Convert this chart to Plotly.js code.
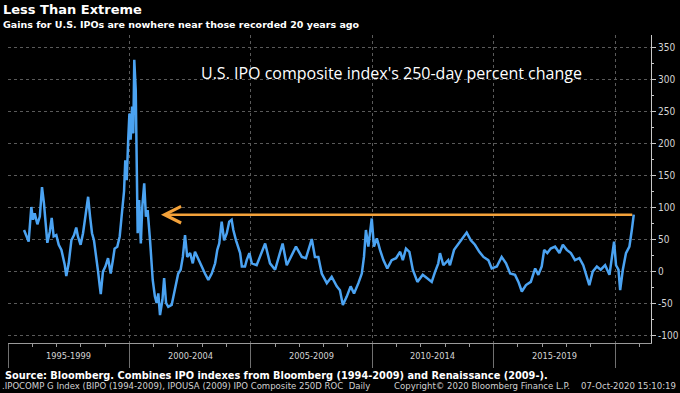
<!DOCTYPE html>
<html>
<head>
<meta charset="utf-8">
<script src="https://cdn.plot.ly/plotly-3.0.1.min.js"></script>
<style>
html,body{margin:0;padding:0;background:#000;}
#chart{width:680px;height:393px;}
</style>
</head>
<body>
<div id="chart"></div>
<script>
// Decimal years and 250-day percent change of the U.S. IPO composite index
const years = [
1995.66,1995.75,1995.85,1995.96,1996.03,1996.10,1996.21,1996.31,1996.40,1996.48,
1996.55,1996.62,1996.72,1996.80,1996.88,1996.99,1997.09,1997.20,1997.34,1997.40,
1997.50,1997.61,1997.72,1997.81,1997.88,1997.99,1998.09,1998.18,1998.30,1998.38,
1998.46,1998.54,1998.64,1998.71,1998.78,1998.82,1998.91,1999.01,1999.12,1999.23,
1999.32,1999.39,1999.50,1999.60,1999.67,1999.78,1999.83,1999.89,1999.95,2000.00,
2000.05,2000.11,2000.16,2000.20,2000.26,2000.30,2000.34,2000.40,2000.47,2000.53,
2000.61,2000.68,2000.75,2000.85,2000.96,2001.05,2001.12,2001.19,2001.26,2001.36,
2001.43,2001.51,2001.60,2001.74,2001.88,2002.01,2002.11,2002.20,2002.29,2002.38,
2002.50,2002.61,2002.70,2002.84,2002.98,2003.11,2003.25,2003.39,2003.53,2003.62,
2003.70,2003.80,2003.90,2004.01,2004.11,2004.21,2004.28,2004.39,2004.56,2004.63,
2004.76,2004.83,2004.94,2005.04,2005.24,2005.59,2005.79,2006.00,2006.31,2006.48,
2006.86,2007.10,2007.27,2007.51,2007.64,2007.78,2007.92,2008.13,2008.33,2008.54,
2008.67,2008.79,2008.95,2009.11,2009.25,2009.43,2009.57,2009.66,2009.74,2009.84,
2009.98,2010.07,2010.19,2010.32,2010.46,2010.62,2010.80,2010.98,2011.15,2011.26,
2011.39,2011.53,2011.67,2011.86,2012.08,2012.25,2012.45,2012.59,2012.72,2012.79,
2012.93,2013.13,2013.20,2013.37,2013.55,2013.73,2013.89,2014.06,2014.23,2014.41,
2014.58,2014.78,2014.92,2015.13,2015.33,2015.51,2015.68,2015.88,2016.02,2016.16,
2016.33,2016.53,2016.71,2016.84,2016.98,2017.08,2017.21,2017.35,2017.53,2017.71,
2017.85,2018.01,2018.18,2018.35,2018.53,2018.69,2018.81,2018.94,2019.08,2019.25,
2019.41,2019.59,2019.77,2019.86,2019.96,2020.04,2020.14,2020.21,2020.32,2020.45,
2020.59,2020.69,2020.77
];
const pctChange = [
64,54,46,100,80,90,73,85,131,106,
69,44,61,83,54,56,41,33,9,-8,
12,48,56,68,54,41,59,85,116,85,
59,48,22,-1,-24,-36,-1,7,20,-4,
17,35,38,54,82,125,173,142,205,246,
205,257,215,330,283,142,59,111,43,100,
137,85,95,48,-14,-40,-50,-35,-69,-45,
-11,-50,-56,-53,-30,-4,2,22,56,22,
28,12,30,17,7,-4,-14,-4,12,33,
43,77,48,59,77,80,64,48,28,7,
7,17,28,12,9,43,12,2,43,9,
38,22,20,50,22,22,-4,-19,-9,-24,
-30,-53,-40,-24,-35,-19,-4,22,64,38,
82,38,51,33,17,4,17,20,30,17,
35,30,2,-17,-6,-11,-17,-1,12,28,
9,17,9,33,43,51,60,48,41,30,
22,17,4,7,22,12,-4,-6,-17,-32,
-22,-17,4,-6,7,33,28,35,38,28,
41,33,28,17,20,9,-6,-22,-1,7,
2,9,-6,17,46,9,2,-30,2,28,
38,64,88
];

const yTickVals = [-100,-50,0,50,100,150,200,250,300,350];
const yTickText = ["-100","-50","0","50","100","150","200","250","300","350"];
const periodMids = [1997.5,2002.5,2007.5,2012.5,2017.5];
const periodLabels = ["1995-1999","2000-2004","2005-2009","2010-2014","2015-2019"];
const arrowFrom = {year: 2020.77, value: 88};
const arrowTo = {year: 2001.30, value: 88};

const condensed = "DejaVu Sans Condensed, DejaVu Sans, sans-serif";
const yAxisFont = {family: condensed, size: 10, color: "#d4d4d4"};
const xLabelFont = {family: condensed, size: 9.2, color: "#d4d4d4"};
const footFont = {family: condensed, size: 9.5, color: "#d0d0d0"};

const traces = [{
  x: years, y: pctChange, type: "scatter", mode: "lines",
  line: {color: "#4ba3f2", width: 2.5},
  hoverinfo: "skip", showlegend: false
}];

const annotations = [
  {text: "Less Than Extreme", xref: "paper", yref: "paper", x: -0.0093, y: 1.0536,
   xanchor: "left", yanchor: "bottom", showarrow: false, borderpad: 0,
   font: {family: "DejaVu Sans", size: 13, color: "#ffffff", weight: "bold"}},
  {text: "Gains for U.S. IPOs are nowhere near those recorded 20 years ago", xref: "paper", yref: "paper",
   x: -0.0093, y: 1.0536, xanchor: "left", yanchor: "top", showarrow: false, borderpad: 0,
   font: {family: "DejaVu Sans", size: 9.5, color: "#ffffff", weight: "bold"}},
  {text: "U.S. IPO composite index's 250-day percent change", xref: "paper", yref: "paper",
   x: 0.597, y: 0.8776, xanchor: "center", yanchor: "middle", showarrow: false,
   font: {family: "Open Sans", size: 16, color: "#ffffff"}},
  {text: "", x: arrowTo.year, y: arrowTo.value, xref: "x", yref: "y",
   ax: arrowFrom.year, ay: arrowFrom.value, axref: "x", ayref: "y",
   showarrow: true, arrowhead: 5, arrowsize: 1.3, arrowwidth: 2.5, arrowcolor: "#f4a23a"},
  {text: "Source: Bloomberg. Combines IPO indexes from Bloomberg (1994-2009) and Renaissance (2009-).",
   xref: "paper", yref: "paper", x: -0.0078, y: -0.1039, xanchor: "left", yanchor: "middle", showarrow: false,
   font: {family: "DejaVu Sans", size: 9.8, color: "#ffffff", weight: "bold"}},
  {text: ".IPOCOMP G Index (BIPO (1994-2009), IPOUSA (2009) IPO Composite 250D ROC  Daily",
   xref: "paper", yref: "paper", x: -0.0124, y: -0.1396, xanchor: "left", yanchor: "middle", showarrow: false,
   font: footFont},
  {text: "Copyright© 2020 Bloomberg Finance L.P.",
   xref: "paper", yref: "paper", x: 0.597, y: -0.1396, xanchor: "left", yanchor: "middle", showarrow: false,
   font: footFont},
  {text: "07-Oct-2020 15:10:19",
   xref: "paper", yref: "paper", x: 1.042, y: -0.1396, xanchor: "right", yanchor: "middle", showarrow: false,
   font: footFont}
];

periodMids.forEach((m, i) => {
  annotations.push({text: periodLabels[i], x: m, xref: "x", yref: "paper", y: -0.042,
    xanchor: "center", yanchor: "middle", showarrow: false, font: xLabelFont});
});

const layout = {
  width: 680, height: 393,
  paper_bgcolor: "#000000", plot_bgcolor: "#000000",
  margin: {l: 8, r: 29, t: 35, b: 50},
  showlegend: false,
  xaxis: {
    type: "linear", range: [1995, 2021.48],
    tickmode: "linear", tick0: 1995, dtick: 5,
    showticklabels: false, ticks: "outside", ticklen: 24, tickcolor: "#707070", tickwidth: 1,
    showgrid: true, gridcolor: "#5a5a5a", griddash: "dot", gridwidth: 1,
    showline: true, linecolor: "#9a9a9a", linewidth: 1, zeroline: false,
    minor: {dtick: 1, tick0: 1995, ticks: "outside", ticklen: 3, tickcolor: "#9a9a9a", showgrid: false}
  },
  yaxis: {
    side: "right", range: [-112.5, 368.75],
    tickmode: "array", tickvals: yTickVals, ticktext: yTickText,
    ticks: "outside", ticklen: 4, tickcolor: "#c8c8c8",
    tickfont: yAxisFont,
    showgrid: true, gridcolor: "#5a5a5a", griddash: "dot", gridwidth: 1,
    showline: true, linecolor: "#c8c8c8", linewidth: 1, zeroline: false,
    minor: {dtick: 25, tick0: 0, ticks: "outside", ticklen: 2, tickcolor: "#c8c8c8", showgrid: false}
  },
  annotations: annotations
};

Plotly.newPlot("chart", traces, layout, {staticPlot: true, displayModeBar: false});
</script>
</body>
</html>
